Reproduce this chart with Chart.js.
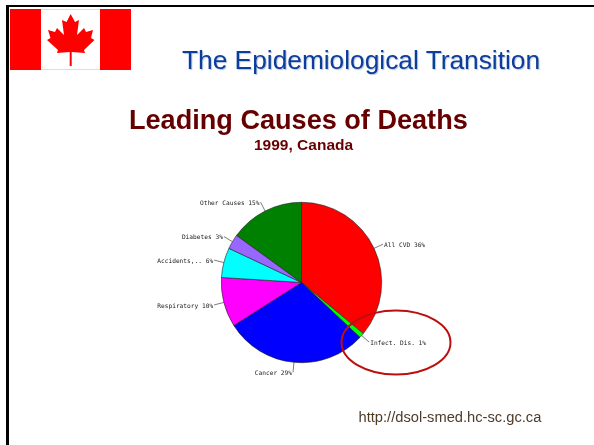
<!DOCTYPE html>
<html>
<head>
<meta charset="utf-8">
<title>Leading Causes of Deaths</title>
<script src="https://cdn.jsdelivr.net/npm/chart.js@4"></script>
<style>
  html, body { margin: 0; padding: 0; background: #fff; overflow: hidden; }
  #slide { position: relative; width: 594px; height: 445px; font-family: "Liberation Sans", Arial, sans-serif; }
  #slide canvas { position: absolute; left: 0; top: 0; filter: blur(0.35px); }
  .txt { position: absolute; white-space: nowrap; }
  #heading { left: 182px; top: 45px; font-size: 26.3px; color: #0b3d9c; text-shadow: 1px 1px 1px #b9c4d8; }
  #title { left: 129px; top: 104px; font-size: 27.1px; font-weight: bold; color: #660000; }
  #subtitle { left: 254px; top: 136px; font-size: 15.5px; font-weight: bold; color: #660000; }
  #source { left: 358.5px; top: 409px; font-size: 14.7px; color: #4d3b26; }
</style>
</head>
<body>
<div id="slide">
  <canvas id="chart" width="594" height="445"></canvas>
  <div class="txt" id="heading">The Epidemiological Transition</div>
  <div class="txt" id="title">Leading Causes of Deaths</div>
  <div class="txt" id="subtitle">1999, Canada</div>
  <div class="txt" id="source">http://dsol-smed.hc-sc.gc.ca</div>
</div>
<script>
const categories = ['All CVD', 'Infect. Dis.', 'Cancer', 'Respiratory', 'Accidents,..', 'Diabetes', 'Other Causes']
const percentages = [36, 1, 29, 10, 6, 3, 15]
const sliceColors = ['#ff0000', '#00ff00', '#0000ff', '#ff00ff', '#00ffff', '#9966ff', '#008000']

// Slide decoration: frame, flag, and the red ellipse round the small slice
const slideDecor = {
  id: 'slideDecor',
  beforeDraw(chart) {
    const c = chart.ctx
    c.save()
    c.fillStyle = '#000'
    c.fillRect(6, 5, 588, 2)
    c.fillRect(6, 5, 3, 440)
    // flag
    c.fillStyle = '#ddd'
    c.fillRect(41, 9, 59, 61)
    c.fillStyle = '#fff'
    c.fillRect(41, 10, 59, 59)
    c.fillStyle = '#ff0000'
    c.fillRect(10, 9, 31, 61)
    c.fillRect(100, 9, 31, 61)
    c.beginPath()
    const leaf = [[70.7,14],[75,22],[79,20],[77,35],[84,28],[86,32],[93,30],[91,38],[94.5,40],[84,50],[85,53],[71.7,52],[71.7,66],[69.7,66],[69.7,52],[57,53],[58,50],[47,40],[50.5,38],[48,30],[55,32],[57,28],[64,35],[62,20],[66.5,22]]
    leaf.forEach((p, i) => i ? c.lineTo(p[0], p[1]) : c.moveTo(p[0], p[1]))
    c.closePath()
    c.fill()
    c.restore()
  },
  afterDraw(chart) {
    const c = chart.ctx
    c.save()
    c.strokeStyle = '#bb0f0f'
    c.lineWidth = 2
    c.beginPath()
    c.ellipse(396, 342.5, 54.5, 32, 0, 0, Math.PI * 2)
    c.stroke()
    c.restore()
  }
}

// Small labels with straight radial leader lines, like the original GIF pie
const sliceLabels = {
  id: 'sliceLabels',
  afterDatasetsDraw(chart) {
    const c = chart.ctx
    const arcs = chart.getDatasetMeta(0).data
    c.save()
    c.font = '6.2px "DejaVu Sans Mono", monospace'
    c.fillStyle = '#222'
    c.strokeStyle = '#444'
    c.lineWidth = 0.7
    c.textBaseline = 'middle'
    arcs.forEach((arc, i) => {
      const mid = (arc.startAngle + arc.endAngle) / 2
      const cos = Math.cos(mid)
      const sin = Math.sin(mid)
      const x0 = arc.x + cos * arc.outerRadius
      const y0 = arc.y + sin * arc.outerRadius
      const x1 = arc.x + cos * (arc.outerRadius + 10)
      const y1 = arc.y + sin * (arc.outerRadius + 10)
      const right = cos >= 0
      c.beginPath()
      c.moveTo(x0, y0)
      c.lineTo(x1, y1)
      c.stroke()
      c.textAlign = right ? 'left' : 'right'
      c.fillText(categories[i] + ' ' + percentages[i] + '%', x1 + (right ? 1 : -1), y1 + 1)
    })
    c.restore()
  }
}

new Chart(document.getElementById('chart'), {
  type: 'pie',
  data: {
    labels: categories,
    datasets: [{
      data: percentages,
      backgroundColor: sliceColors,
      borderColor: '#222',
      borderWidth: 0.6
    }]
  },
  options: {
    responsive: false,
    animation: false,
    layout: { padding: { left: 221, right: 212, top: 202, bottom: 82 } },
    plugins: { legend: { display: false }, tooltip: { enabled: false } }
  },
  plugins: [slideDecor, sliceLabels]
})
</script>
</body>
</html>
